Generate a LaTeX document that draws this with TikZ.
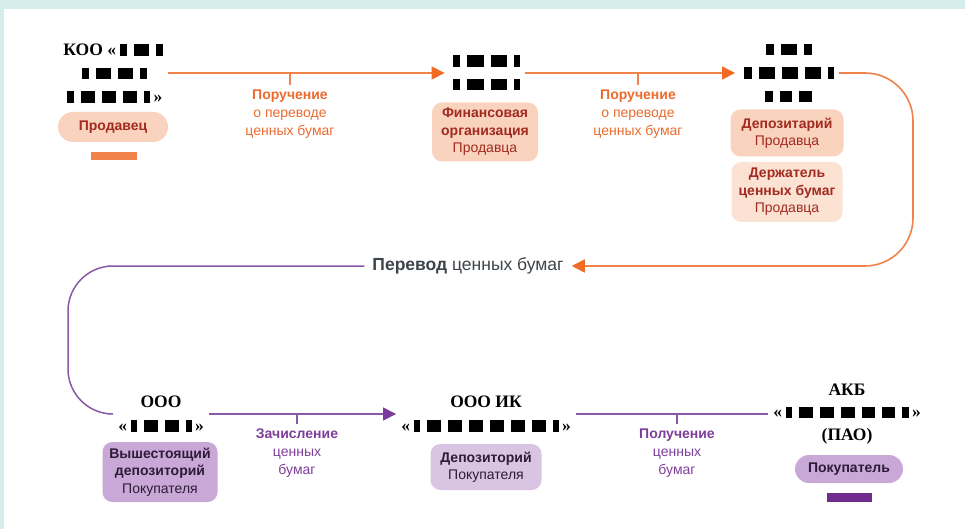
\documentclass[tikz,border=0pt]{standalone}
\usepackage{fontspec}
\setmainfont{Liberation Sans}
\newfontfamily\entfont{Liberation Serif}
\usepackage{xcolor}
\usetikzlibrary{positioning,calc,arrows.meta}

\definecolor{frameteal}{HTML}{D6EEEB}
\definecolor{orng}{HTML}{F0824A}
\definecolor{orngtip}{HTML}{F26A24}
\definecolor{orngtxt}{HTML}{EC6B2F}
\definecolor{peach}{HTML}{FAD3BE}
\definecolor{peachlt}{HTML}{FBE2D2}
\definecolor{redtxt}{HTML}{A12B1F}
\definecolor{purp}{HTML}{8A58A6}
\definecolor{purptip}{HTML}{7A3D9C}
\definecolor{purptxt}{HTML}{7E3F9C}
\definecolor{lilac}{HTML}{C9A8D7}
\definecolor{lilaclt}{HTML}{DAC4E4}
\definecolor{plumtxt}{HTML}{2E1B38}
\definecolor{graytxt}{HTML}{3E444A}
\definecolor{barpurp}{HTML}{6E2D8C}

% redaction mark
\newcommand{\rd}[1]{\hspace{3.5pt}\rule[-0.5pt]{#1pt}{11.5pt}\hspace{3.5pt}}

\begin{document}
\begin{tikzpicture}[x=1pt,y=-1pt,
    ent/.style={font=\entfont\bfseries\fontsize{17.5}{23.5}\selectfont, align=center, inner sep=5pt},
    pill/.style={rounded corners=10pt, align=center, inner sep=0pt, font=\fontsize{14}{17.5}\selectfont},
    sellpill/.style={pill, fill=peach, text=redtxt},
    buypill/.style={pill, fill=lilac, text=plumtxt},
    lbl/.style={anchor=north, align=center, inner sep=0pt, inner ysep=5pt, font=\fontsize{14}{18}\selectfont},
    olbl/.style={lbl, text=orngtxt},
    plbl/.style={lbl, text=purptxt},
    oline/.style={draw=orng, line width=1.6pt},
    oarrow/.style={oline, -{Triangle[length=13pt,width=13pt,color=orngtip]}},
    pline/.style={draw=purp, line width=1.5pt},
    parrow/.style={pline, -{Triangle[length=13pt,width=13pt,color=purptip]}}]
    \useasboundingbox (0,0) rectangle (965,529);
    \fill[frameteal] (0,0) rectangle (965,529);
    \fill[white] (4,9) rectangle (965,529);

    % seller side
    \node[ent] (koo) at (113,73) {КОО «\rd{7}\rd{15}\rd{7}\\\rd{7}\rd{15}\rd{15}\rd{7}\\\rd{7}\rd{14}\rd{14}\rd{14}\rd{6}»};
    \node[sellpill, rounded corners=15pt, minimum width=110pt, minimum height=30pt] (seller) at (113,127) {\textbf{Продавец}};
    \node[fill=orng, minimum width=46pt, minimum height=8pt, inner sep=0pt] (sellbar) at (114,156) {};

    \node[ent] (fin) at (485,73) {\rd{7}\rd{17}\rd{16}\rd{6}\\\rd{7}\rd{17}\rd{16}\rd{6}};
    \node[sellpill, minimum width=106pt, minimum height=59pt] (finorg) at (485,132) {\textbf{Финансовая}\\\textbf{организация}\\Продавца};

    \node[ent] (depo) at (787,73) {\rd{8}\rd{16}\rd{8}\\\rd{8}\rd{16}\rd{16}\rd{16}\rd{6}\\\rd{8}\rd{12}\rd{13}};
    \node[sellpill, minimum width=113pt, minimum height=47pt] (depos) at (787,133) {\textbf{Депозитарий}\\Продавца};
    \node[sellpill, fill=peachlt, minimum width=111pt, minimum height=60pt] (holder) at (787,192) {\textbf{Держатель}\\\textbf{ценных бумаг}\\Продавца};

    \node[olbl] (ordA) at (290,85) {\textbf{Поручение}\\о переводе\\ценных бумаг};
    \node[olbl] (ordB) at (638,85) {\textbf{Поручение}\\о переводе\\ценных бумаг};

    \draw[oarrow] (koo.east) -- (fin.west);
    \draw[oarrow] (fin.east) -- (depo.west);
    \draw[oline] (ordA.north) -- (ordA.north |- koo.east);
    \draw[oline] (ordB.north) -- (ordB.north |- fin.east);

    % transfer
    \node[font=\fontsize{17.5}{20}\selectfont, text=graytxt, inner sep=8pt] (xfer) at (468,266) {\textbf{Перевод} ценных бумаг};
    \coordinate (turnR) at (913,266);
    \coordinate (turnL) at (68,414);
    \draw[oarrow, rounded corners=48pt] (depo.east) -| (turnR) -- (xfer.east);

    % buyer side
    \node[ent] (vysh) at (161,414) {ООО\\«\rd{6}\rd{14}\rd{14}\rd{6}»};
    \node[buypill, minimum width=115pt, minimum height=60pt] (updepo) at (160,472) {\textbf{Вышестоящий}\\\textbf{депозиторий}\\Покупателя};

    \node[ent] (ik) at (486,414) {ООО ИК\\«\rd{6}\rd{14}\rd{14}\rd{14}\rd{14}\rd{14}\rd{14}\rd{6}»};
    \node[buypill, fill=lilaclt, minimum width=111pt, minimum height=46pt] (ikdepo) at (486,467) {\textbf{Депозиторий}\\Покупателя};

    \node[ent, font=\entfont\bfseries\fontsize{17.5}{22.5}\selectfont] (akb) at (847,414) {АКБ\\«\rd{6}\rd{14}\rd{14}\rd{14}\rd{13}\rd{13}\rd{7}»\\(ПАО)};
    \node[buypill, rounded corners=14pt, minimum width=108pt, minimum height=28pt] (buyer) at (849,469) {\textbf{Покупатель}};
    \node[fill=barpurp, minimum width=45pt, minimum height=9pt, inner sep=0pt] (buybar) at (849,497) {};

    \node[plbl] (crd) at (297,424) {\textbf{Зачисление}\\ценных\\бумаг};
    \node[plbl] (rcv) at (677,424) {\textbf{Получение}\\ценных\\бумаг};

    \draw[pline, rounded corners=45pt] (xfer.west) -| (turnL) -- (vysh.west);
    \draw[parrow] (vysh.east) -- (ik.west);
    \draw[pline] (ik.east) -- (akb.west);
    \draw[pline] (crd.north) -- (crd.north |- vysh.east);
    \draw[pline] (rcv.north) -- (rcv.north |- ik.east);
\end{tikzpicture}
\end{document}
